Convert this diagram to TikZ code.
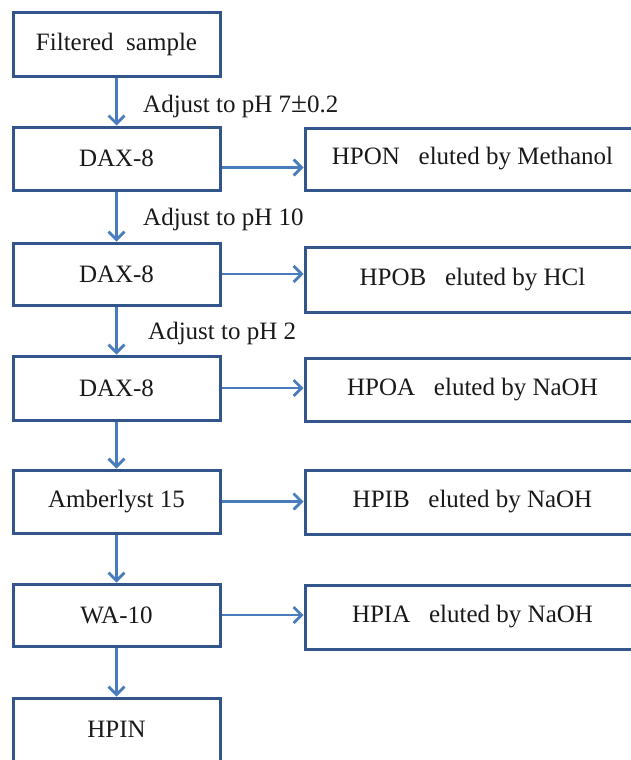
\documentclass[tikz,border=0pt]{standalone}
\usepackage{fontspec}
\setmainfont{Liberation Serif}
\usetikzlibrary{arrows.meta}
\definecolor{boxblue}{RGB}{50,86,140}
\definecolor{arrowblue}{RGB}{72,124,188}
\begin{document}
\begin{tikzpicture}[x=1pt,y=-1pt]

      \clip (0,0) rectangle (631,760);
      \fill[white] (0,0) rectangle (631,760);

      \begin{scope}[every node/.style={rectangle,draw=boxblue,line width=3pt,
          font=\fontsize{25}{29}\selectfont,text=black!90}]
        \node[minimum width=207pt,minimum height=63pt] (s)  at (116.5,44.5)  {Filtered\ \ sample};
        \node[minimum width=207pt,minimum height=63pt] (d1) at (116.5,158.5) {DAX-8};
        \node[minimum width=207pt,minimum height=62pt] (d2) at (116.5,274)   {DAX-8};
        \node[minimum width=207pt,minimum height=64pt] (d3) at (116.5,388)   {DAX-8};
        \node[minimum width=207pt,minimum height=63pt] (a)  at (116.5,501.5) {Amberlyst 15};
        \node[minimum width=207pt,minimum height=62pt] (w)  at (116.5,615)   {WA-10};
        \node[minimum width=207pt,minimum height=63pt] (n)  at (116.5,729.5) {HPIN};
        \node[minimum width=335pt,minimum height=62pt] (on) at (472.5,159)   {HPON\ \ \ eluted by Methanol};
        \node[minimum width=335pt,minimum height=65pt] (ob) at (472.5,279.5) {HPOB\ \ \ eluted by HCl};
        \node[minimum width=335pt,minimum height=63pt] (oa) at (472.5,389.5) {HPOA\ \ \ eluted by NaOH};
        \node[minimum width=335pt,minimum height=64pt] (ib) at (472.5,502)   {HPIB\ \ \ eluted by NaOH};
        \node[minimum width=335pt,minimum height=64pt] (ia) at (472.5,617)   {HPIA\ \ \ eluted by NaOH};
      \end{scope}

      \begin{scope}[every node/.style={anchor=west,inner sep=0pt,
          font=\fontsize{25}{29}\selectfont,text=black!90}]
        \node (l1) at (143,106) {Adjust to pH 7{\fontsize{29}{29}\selectfont±}0.2};
        \node (l2) at (143,219) {Adjust to pH 10};
        \node (l3) at (148,333) {Adjust to pH 2};
      \end{scope}

      \begin{scope}[every edge/.style={draw=arrowblue,line width=2.8pt,
          -{Straight Barb[length=8pt,width=16pt,line width=2.8pt]}}]
        \path (s)  edge (d1);
        \path (d1) edge (d2);
        \path (d2) edge (d3);
        \path (d3) edge (a);
        \path (a)  edge (w);
        \path (w)  edge (n);
        \path ([yshift=-9pt]d1.east) edge ([yshift=-9pt]d1.east -| on.west);
        \path (d2.east) edge (d2.east -| ob.west);
        \path (d3.east) edge (d3.east -| oa.west);
        \path (a.east)  edge (a.east -| ib.west);
        \path (w.east)  edge (w.east -| ia.west);
      \end{scope}

    \end{tikzpicture}
\end{document}
